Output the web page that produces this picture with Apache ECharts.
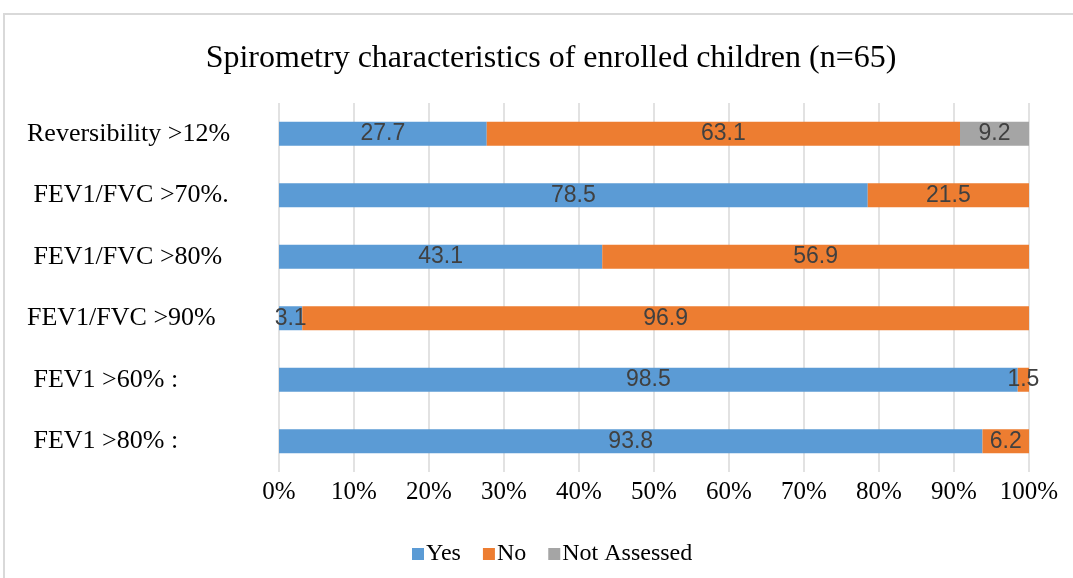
<!DOCTYPE html>
<html>
<head>
<meta charset="utf-8">
<script src="https://cdn.jsdelivr.net/npm/echarts@6/dist/echarts.min.js"></script>
<style>
  html, body { margin: 0; padding: 0; background: #fff; }
  #chart { width: 1073px; height: 578px; }
</style>
</head>
<body>
<div id="chart"></div>
<script>
// 各项指标（从上到下）
const categories = ['Reversibility >12%', ' FEV1/FVC >70%.', ' FEV1/FVC >80%', 'FEV1/FVC >90%', ' FEV1 >60% :', ' FEV1 >80% :'];
const yesValues = [27.7, 78.5, 43.1, 3.1, 98.5, 93.8];
const noValues = [63.1, 21.5, 56.9, 96.9, 1.5, 6.2];
const notAssessedValues = [9.2, null, null, null, null, null];
const xTickLabels = ['0%', '10%', '20%', '30%', '40%', '50%', '60%', '70%', '80%', '90%', '100%'];

const serif = '"Liberation Serif", "Times New Roman", serif';
const sans = '"Liberation Sans", Arial, sans-serif';

const chart = echarts.init(document.getElementById('chart'));

const barLabel = {
    show: true,
    position: 'inside',
    color: '#404040',
    fontFamily: sans,
    fontSize: 23
};

function makeSeries(name, data, color) {
    return {
        name: name,
        type: 'bar',
        stack: 'total',
        data: data,
        barWidth: 24,
        itemStyle: { color: color },
        label: barLabel
    };
}

const option = {
    animation: false,
    graphic: [{
        type: 'rect',
        shape: { x: 4, y: 14, width: 1100, height: 620 },
        style: { fill: 'none', stroke: '#d9d9d9', lineWidth: 2 },
        silent: true
    }],
    title: {
        text: 'Spirometry characteristics of enrolled children (n=65)',
        left: 546,
        textAlign: 'center',
        top: 38,
        textStyle: {
            fontFamily: serif,
            fontWeight: 'normal',
            fontSize: 32,
            color: '#000'
        }
    },
    legend: {
        data: ['Yes', 'No', 'Not Assessed'],
        left: 407,
        top: 537,
        icon: 'rect',
        itemWidth: 12,
        itemHeight: 12,
        itemGap: 22,
        textStyle: {
            fontFamily: serif,
            fontSize: 24,
            color: '#000',
            padding: [0, 0, 0, -3]
        }
    },
    grid: {
        left: 279,
        right: 44,
        top: 103,
        bottom: 106,
        containLabel: false
    },
    xAxis: {
        type: 'value',
        min: 0,
        max: 100,
        interval: 10,
        axisLine: { show: false },
        axisTick: { show: false },
        splitLine: { show: true, lineStyle: { color: '#d9d9d9', width: 1.5 } },
        axisLabel: {
            formatter: function (v) { return xTickLabels[Math.round(v / 10)]; },
            fontFamily: serif,
            fontSize: 25,
            color: '#000',
            margin: 8
        }
    },
    yAxis: {
        type: 'category',
        data: categories,
        inverse: true,
        axisLine: { show: false },
        axisTick: { show: false },
        splitLine: { show: false },
        axisLabel: {
            align: 'left',
            margin: 252,
            fontFamily: serif,
            fontSize: 26,
            color: '#000'
        }
    },
    series: [
        makeSeries('Yes', yesValues, '#5b9bd5'),
        makeSeries('No', noValues, '#ed7d31'),
        makeSeries('Not Assessed', notAssessedValues, '#a5a5a5')
    ]
};

chart.setOption(option);
</script>
</body>
</html>
